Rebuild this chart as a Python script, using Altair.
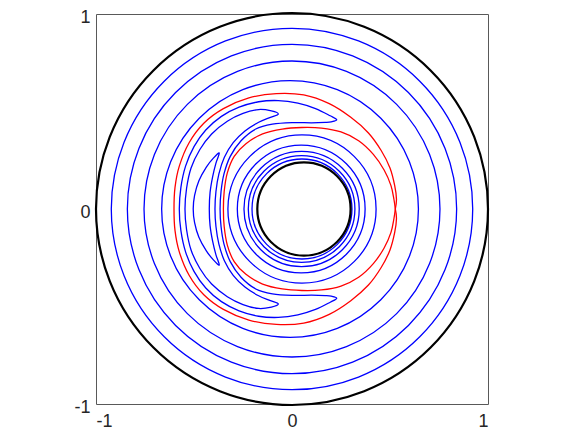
import altair as alt
import pandas as pd

# ---- near-circular streamlines and the two walls (center x, center y, radius; data units)
circ_name = ["outer wall", "s1", "s2", "s3", "s4", "s5", "s6", "s7", "s8", "s9", "inner wall"]
circ_cx = [0.0, 0.0, 0.0, 0.0, -0.01, 0.051, 0.047, 0.049, 0.049, 0.051, 0.061]
circ_cy = [0.0, 0.0, 0.0, 0.0, 0.0, 0.0, 0.0, 0.0, 0.0, 0.0, 0.0]
circ_r = [1.0, 0.922, 0.840, 0.755, 0.655, 0.378, 0.326, 0.294, 0.272, 0.255, 0.238]
circ_kind = ["wall", "stream", "stream", "stream", "stream", "stream",
             "stream", "stream", "stream", "stream", "wall"]

# ---- eddy streamlines (closed crescents)
c3_x = [0.228,
        0.195, 0.12, 0.03, -0.07, -0.17, -0.27, -0.36, -0.44, -0.50, -0.543, -0.567, -0.575,
        -0.567, -0.543, -0.50, -0.44, -0.36, -0.27, -0.17, -0.07, 0.03, 0.12, 0.195,
        0.228,
        0.20, 0.17, 0.10, 0.0, -0.10, -0.185, -0.26, -0.315, -0.347, -0.362, -0.367,
        -0.362, -0.347, -0.315, -0.26, -0.185, -0.10, 0.0, 0.10, 0.17, 0.20]
c3_y = [0.458,
        0.478, 0.515, 0.543, 0.556, 0.55, 0.522, 0.475, 0.405, 0.32, 0.22, 0.11, 0.0,
        -0.11, -0.22, -0.32, -0.405, -0.475, -0.522, -0.55, -0.556, -0.543, -0.515, -0.478,
        -0.458,
        -0.447, -0.444, -0.442, -0.443, -0.435, -0.41, -0.35, -0.27, -0.18, -0.09, 0.0,
        0.09, 0.18, 0.27, 0.35, 0.41, 0.435, 0.443, 0.442, 0.444, 0.447]
c2_x = [-0.07,
        -0.105, -0.17, -0.25, -0.33, -0.41, -0.47, -0.515, -0.538, -0.546,
        -0.538, -0.515, -0.47, -0.41, -0.33, -0.25, -0.17, -0.105,
        -0.07,
        -0.11, -0.17, -0.24, -0.30, -0.345, -0.373, -0.388, -0.393,
        -0.388, -0.373, -0.345, -0.30, -0.24, -0.17, -0.11]
c2_y = [0.487,
        0.503, 0.51, 0.49, 0.45, 0.385, 0.305, 0.21, 0.105, 0.0,
        -0.105, -0.21, -0.305, -0.385, -0.45, -0.49, -0.51, -0.503,
        -0.487,
        -0.47, -0.445, -0.40, -0.34, -0.265, -0.18, -0.09, 0.0,
        0.09, 0.18, 0.265, 0.34, 0.40, 0.445, 0.47]
c1_x = [-0.371,
        -0.40, -0.437, -0.475, -0.497, -0.504, -0.497, -0.475, -0.437, -0.40,
        -0.371,
        -0.388, -0.405, -0.418, -0.422, -0.418, -0.405, -0.388]
c1_y = [0.287,
        0.262, 0.215, 0.145, 0.07, 0.0, -0.07, -0.145, -0.215, -0.262,
        -0.287,
        -0.235, -0.165, -0.085, 0.0, 0.085, 0.165, 0.235]

# ---- separatrix: two loops leaving and returning to the saddle point on the right
sepo_x = [0.527,
          0.533, 0.524, 0.50, 0.455, 0.39, 0.30, 0.19, 0.06, -0.08, -0.22, -0.35, -0.45, -0.525, -0.575, -0.597,
          -0.602,
          -0.597, -0.575, -0.525, -0.45, -0.35, -0.22, -0.08, 0.06, 0.19, 0.30, 0.39, 0.455, 0.50, 0.524, 0.533,
          0.527]
sepo_y = [0.0,
          0.05, 0.12, 0.21, 0.30, 0.39, 0.47, 0.54, 0.585, 0.592, 0.57, 0.515, 0.44, 0.34, 0.22, 0.11,
          0.0,
          -0.11, -0.22, -0.34, -0.44, -0.515, -0.57, -0.592, -0.585, -0.54, -0.47, -0.39, -0.30, -0.21, -0.12, -0.05,
          0.0]
sepi_x = [0.527,
          0.52, 0.505, 0.47, 0.415, 0.34, 0.25, 0.15, 0.05, -0.05, -0.15, -0.235, -0.295, -0.33, -0.346,
          -0.35,
          -0.346, -0.33, -0.295, -0.235, -0.15, -0.05, 0.05, 0.15, 0.25, 0.34, 0.415, 0.47, 0.505, 0.52,
          0.527]
sepi_y = [0.0,
          0.05, 0.12, 0.20, 0.28, 0.35, 0.395, 0.415, 0.418, 0.41, 0.385, 0.335, 0.27, 0.185, 0.09,
          0.0,
          -0.09, -0.185, -0.27, -0.335, -0.385, -0.41, -0.418, -0.415, -0.395, -0.35, -0.28, -0.20, -0.12, -0.05,
          0.0]


def curve_frame(name, xs, ys):
    return pd.DataFrame({"curve": name, "i": list(range(len(xs))), "x": xs, "y": ys})


circles = pd.DataFrame({"name": circ_name, "cx": circ_cx, "cy": circ_cy, "r": circ_r, "kind": circ_kind})
eddies = pd.concat([curve_frame("c3", c3_x, c3_y), curve_frame("c2", c2_x, c2_y),
                    curve_frame("c1", c1_x, c1_y)], ignore_index=True)
seps = pd.concat([curve_frame("outer", sepo_x, sepo_y), curve_frame("inner", sepi_x, sepi_y)],
                 ignore_index=True)

W = 392
H = 390
font = "Liberation Sans"

xs = alt.Scale(domain=[-1, 1], nice=False, zero=False)
ys = alt.Scale(domain=[-1, 1], nice=False, zero=False)
x_axis = alt.Axis(values=[-1, 0, 1], grid=False, ticks=False, domain=False, title=None,
                  labelExpr="toString(datum.value)", labelFontSize=18, labelFont=font,
                  labelColor="#262626", labelPadding=8)
y_axis = alt.Axis(values=[-1, 0, 1], grid=False, ticks=False, domain=False, title=None,
                  labelExpr="toString(datum.value)", labelFontSize=18, labelFont=font,
                  labelColor="#262626", labelPadding=6, labelOffset=3)

# symbol size = (2 * radius in px)^2, radius px = W/2 per data unit
sscale = alt.Scale(type="pow", exponent=2, domain=[0, 1], range=[0, W * W])

circ_layer = alt.Chart(circles).mark_point(shape="circle", filled=False, opacity=1).encode(
    x=alt.X("cx:Q", scale=xs, axis=x_axis),
    y=alt.Y("cy:Q", scale=ys, axis=y_axis),
    size=alt.Size("r:Q", scale=sscale, legend=None),
    stroke=alt.Stroke("kind:N", scale=alt.Scale(domain=["wall", "stream"], range=["#000000", "#0000ff"]), legend=None),
    strokeWidth=alt.StrokeWidth("kind:N", scale=alt.Scale(domain=["wall", "stream"], range=[2.2, 1.3]), legend=None),
)

eddy_layer = alt.Chart(eddies).mark_line(interpolate="cardinal-closed", color="#0000ff", strokeWidth=1.3).encode(
    x=alt.X("x:Q", scale=xs), y=alt.Y("y:Q", scale=ys),
    detail="curve:N", order="i:Q")

sep_layer = alt.Chart(seps).mark_line(interpolate="cardinal", color="#ff0000", strokeWidth=1.3).encode(
    x=alt.X("x:Q", scale=xs), y=alt.Y("y:Q", scale=ys),
    detail="curve:N", order="i:Q")

chart = alt.layer(circ_layer, eddy_layer, sep_layer).properties(
    width=W, height=H,
    autosize=alt.AutoSizeParams(type="none"),
    padding={"left": 88, "top": 6, "right": 60, "bottom": 27},
).configure_view(stroke="#595959", strokeWidth=1)

chart.save("out.html", embed_options={"renderer": "svg", "actions": False})
